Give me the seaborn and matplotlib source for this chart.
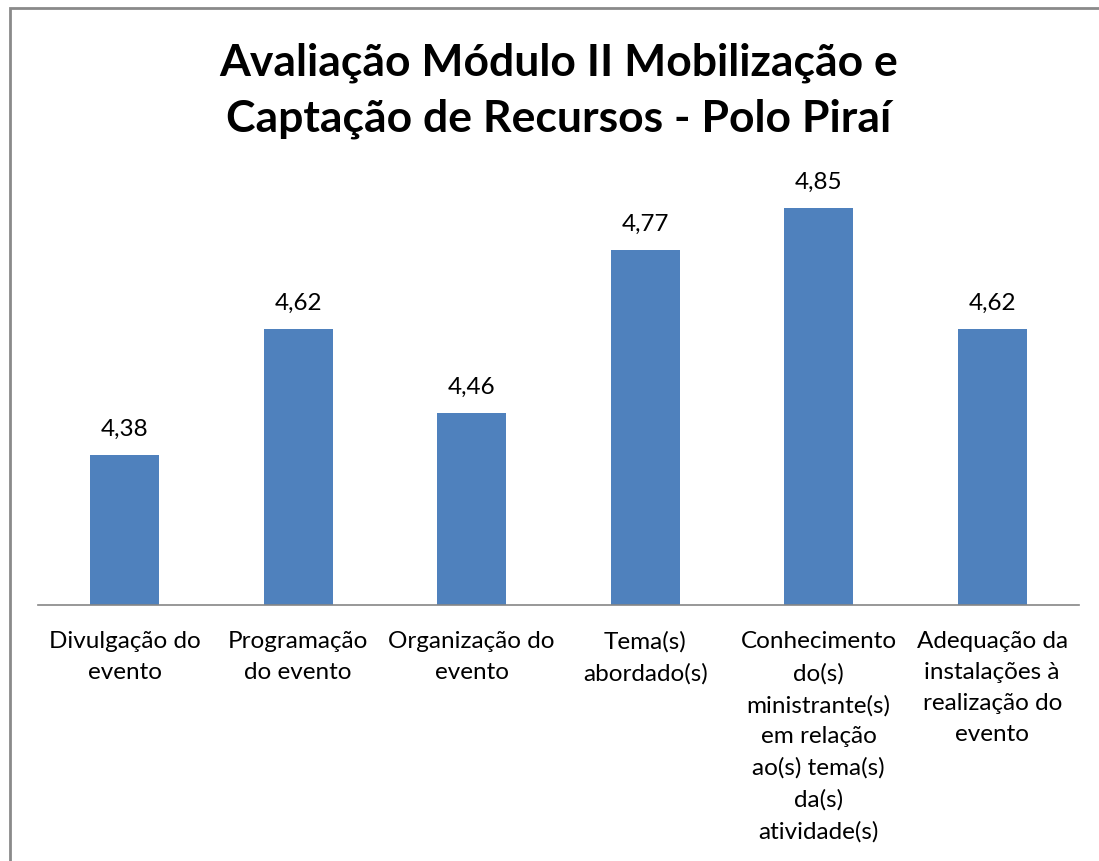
import matplotlib
matplotlib.use("Agg")
import matplotlib.pyplot as plt
import seaborn as sns
import pandas as pd
from matplotlib.patches import Rectangle

categories = [
    "Divulgação do\nevento",
    "Programação\ndo evento",
    "Organização do\nevento",
    "Tema(s)\nabordado(s)",
    "Conhecimento\ndo(s)\nministrante(s)\nem relação\nao(s) tema(s)\nda(s)\natividade(s)",
    "Adequação da\ninstalações à\nrealização do\nevento",
]
values = [4.38, 4.62, 4.46, 4.77, 4.85, 4.62]
value_labels = ["4,38", "4,62", "4,46", "4,77", "4,85", "4,62"]
title = "Avaliação Módulo II Mobilização e\nCaptação de Recursos - Polo Piraí"

sns.set_theme(style="white")
plt.rcParams['font.family'] = ['Lato', 'DejaVu Sans']

df = pd.DataFrame({"cat": categories, "val": values})

fig = plt.figure(figsize=(10.99, 8.61), dpi=100)
ax = fig.add_axes([38/1099, 1-605/861, (1079-38)/1099, 475.6/861])
sns.barplot(data=df, x="cat", y="val", color="#4F81BD", width=0.4,
            saturation=1, ax=ax, linewidth=0)
ax.set_ylim(4.095, 5.0)
ax.set_xlim(-0.5, len(categories)-0.5)
ax.set_xlabel("")
ax.set_ylabel("")
ax.set_yticks([])
for s in ["top", "left", "right"]:
    ax.spines[s].set_visible(False)
ax.spines["bottom"].set_color("#868686")
ax.spines["bottom"].set_linewidth(1.2)
ax.tick_params(axis="x", length=0, pad=19, labelsize=17.5, colors="#000000")
for lab in ax.get_xticklabels():
    lab.set_linespacing(1.59)
    lab.set_va("top")

for i, (v, t) in enumerate(zip(values, value_labels)):
    ax.annotate(t, (i, v), xytext=(0, 11), textcoords="offset points",
                ha="center", va="bottom", fontsize=17.5, color="#000000")

fig.text(559/1099, 1-91/861, title, ha="center", va="center",
         fontsize=32, fontweight="bold", linespacing=1.48, color="#000000")

fig.patches.append(Rectangle((9.5/1099, -0.05), 1.1, 1.05 - 8.5/861,
                             transform=fig.transFigure, fill=False,
                             edgecolor="#8a8a8a", linewidth=2, zorder=0))

fig.savefig("out.png", dpi=100)
